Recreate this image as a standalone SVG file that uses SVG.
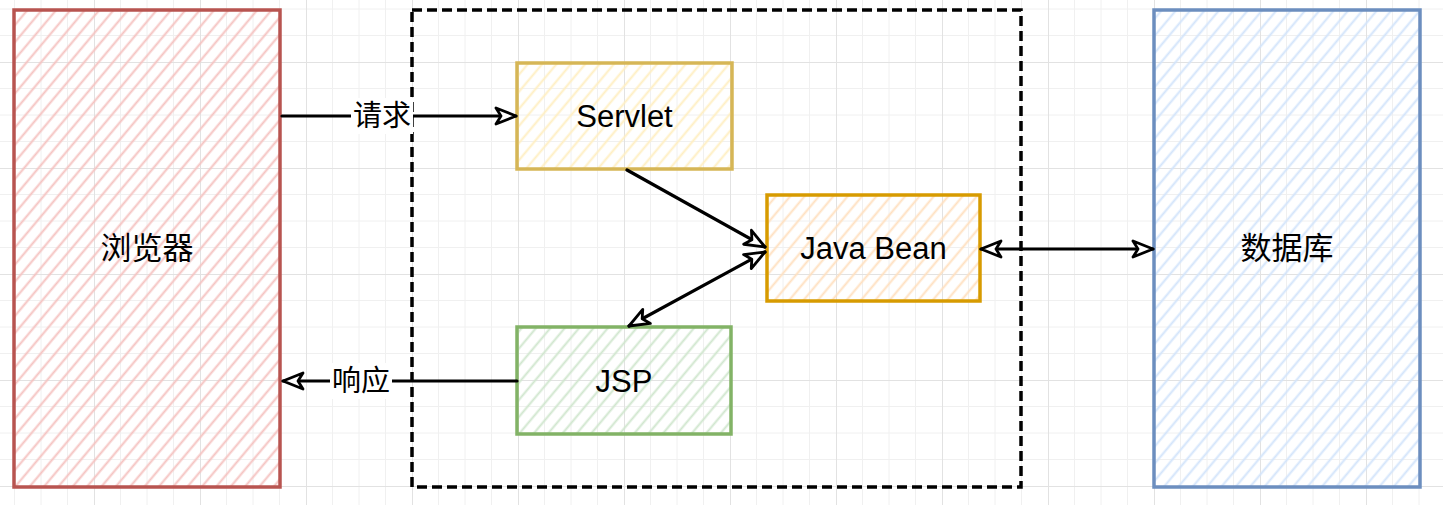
<svg xmlns="http://www.w3.org/2000/svg" width="1443" height="505" viewBox="0 0 1443 505">
  <defs>
    <pattern id="grid" patternUnits="userSpaceOnUse" x="-12" y="-44" width="106" height="106">
      <path d="M26.5,0V106M53,0V106M79.5,0V106M0,26.5H106M0,53H106M0,79.5H106" stroke="#f0f0f0" stroke-width="1" fill="none"/>
      <path d="M0.5,0V106M0,0.5H106" stroke="#e2e2e2" stroke-width="1" fill="none"/>
    </pattern>
    <pattern id="hRed" patternUnits="userSpaceOnUse" width="11" height="11" patternTransform="rotate(40)">
      <line x1="5.5" y1="0" x2="5.5" y2="11" stroke="#f5c3c1" stroke-width="2"/>
    </pattern>
    <pattern id="hYellow" patternUnits="userSpaceOnUse" width="11" height="11" patternTransform="rotate(40)">
      <line x1="5.5" y1="0" x2="5.5" y2="11" stroke="#ffefc2" stroke-width="2"/>
    </pattern>
    <pattern id="hOrange" patternUnits="userSpaceOnUse" width="11" height="11" patternTransform="rotate(40)">
      <line x1="5.5" y1="0" x2="5.5" y2="11" stroke="#ffe0c0" stroke-width="2"/>
    </pattern>
    <pattern id="hGreen" patternUnits="userSpaceOnUse" width="11" height="11" patternTransform="rotate(40)">
      <line x1="5.5" y1="0" x2="5.5" y2="11" stroke="#d0e6ce" stroke-width="2"/>
    </pattern>
    <pattern id="hBlue" patternUnits="userSpaceOnUse" width="11" height="11" patternTransform="rotate(40)">
      <line x1="5.5" y1="0" x2="5.5" y2="11" stroke="#d3e4fb" stroke-width="2"/>
    </pattern>
    <marker id="arrow" markerUnits="userSpaceOnUse" viewBox="-2 -2 24 20" refX="20" refY="8" markerWidth="24" markerHeight="20" orient="auto-start-reverse" overflow="visible">
      <path d="M0,0 L20,8 L0,16 L5,8 Z" fill="#ffffff" stroke="#000000" stroke-width="2.8" stroke-linejoin="round"/>
    </marker>
  </defs>
  <style>
    .box { stroke-width: 3.5; }
    .lbl { font-family: "Liberation Sans", "Noto Sans CJK SC", sans-serif; font-size: 31px; fill: #000000; text-anchor: middle; dominant-baseline: central; }
    .conn { stroke: #000000; stroke-width: 3.2; fill: none; stroke-linecap: round; }
    .elbl { font-family: "Liberation Sans", "Noto Sans CJK SC", sans-serif; font-size: 29px; fill: #000000; text-anchor: middle; dominant-baseline: central; }
  </style>

  <rect x="0" y="0" width="1443" height="505" fill="#ffffff"/>
  <rect x="0" y="0" width="1443" height="505" fill="url(#grid)"/>

  <g id="browser">
    <rect class="box" x="14" y="10" width="266" height="477" fill="url(#hRed)" stroke="#b85450"/>
    <text class="lbl" x="147" y="248">浏览器</text>
  </g>

  <g id="container">
    <rect x="412" y="10" width="609" height="477" fill="none" stroke="#000000" stroke-width="3.5" stroke-dasharray="10 5"/>
  </g>

  <g id="servlet">
    <rect class="box" x="517" y="63" width="215" height="106" fill="url(#hYellow)" stroke="#d6b656"/>
    <text class="lbl" x="624.5" y="116">Servlet</text>
  </g>

  <g id="javabean">
    <rect class="box" x="767" y="195" width="213" height="106" fill="url(#hOrange)" stroke="#d79b00"/>
    <text class="lbl" x="873.5" y="248">Java Bean</text>
  </g>

  <g id="jsp">
    <rect class="box" x="517" y="327" width="214" height="107" fill="url(#hGreen)" stroke="#82b366"/>
    <text class="lbl" x="624" y="381">JSP</text>
  </g>

  <g id="database">
    <rect class="box" x="1154" y="10" width="266" height="477" fill="url(#hBlue)" stroke="#6c8ebf"/>
    <text class="lbl" x="1287" y="248">数据库</text>
  </g>

  <g id="connectors">
    <path class="conn" d="M282,116 L516,116" marker-end="url(#arrow)"/>
    <rect x="351" y="98" width="62" height="36" fill="#ffffff"/>
    <text class="elbl" x="382" y="116">请求</text>

    <path class="conn" d="M627,170 L765,247" marker-end="url(#arrow)"/>
    <path class="conn" d="M765,252 L629,326" marker-start="url(#arrow)" marker-end="url(#arrow)"/>
    <path class="conn" d="M981,249 L1153,249" marker-start="url(#arrow)" marker-end="url(#arrow)"/>

    <path class="conn" d="M517,381 L283,381" marker-end="url(#arrow)"/>
    <rect x="330" y="363" width="62" height="36" fill="#ffffff"/>
    <text class="elbl" x="361" y="381">响应</text>
  </g>
</svg>
